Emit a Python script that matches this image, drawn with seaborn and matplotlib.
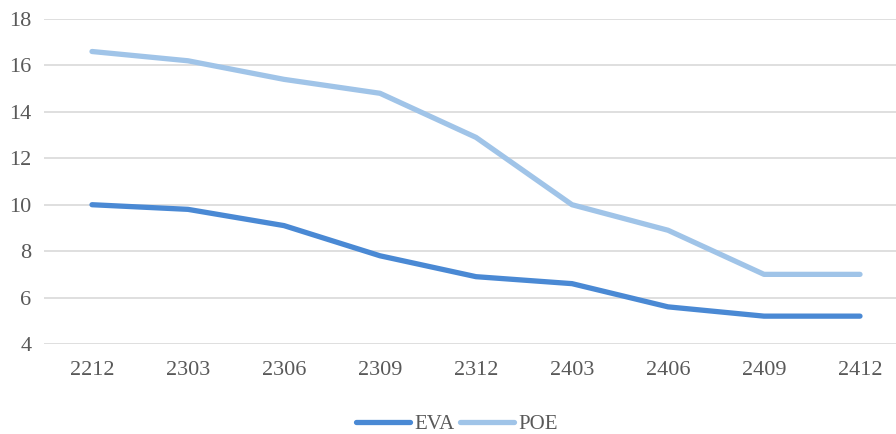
import matplotlib
matplotlib.use("Agg")
import matplotlib.pyplot as plt
import seaborn as sns
import pandas as pd
from matplotlib.lines import Line2D

periods = ["2212", "2303", "2306", "2309", "2312", "2403", "2406", "2409", "2412"]
eva = [10.0, 9.8, 9.1, 7.8, 6.9, 6.6, 5.6, 5.2, 5.2]
poe = [16.6, 16.2, 15.4, 14.8, 12.9, 10.0, 8.9, 7.0, 7.0]
yticks = [4, 6, 8, 10, 12, 14, 16, 18]

df = pd.DataFrame({"period": periods * 2,
                   "value": eva + poe,
                   "series": ["EVA"] * len(eva) + ["POE"] * len(poe)})

sns.set_theme(style="white")
plt.rcParams["font.family"] = ["Liberation Serif", "DejaVu Serif"]
text_color = "#595959"

fig = plt.figure(figsize=(8.96, 4.34), dpi=100)
ax = fig.add_axes([44 / 896, 90 / 434, 852 / 896, 325 / 434])

palette = {"EVA": "#4a89d4", "POE": "#a0c4e8"}
sns.lineplot(data=df, x="period", y="value", hue="series", palette=palette,
             linewidth=3.8, sort=False, ax=ax, legend=False)
for line in ax.lines:
    line.set_solid_capstyle("round")
    line.set_solid_joinstyle("round")

ax.set_ylim(4, 18)
ax.set_yticks(yticks)
ax.set_xlim(-0.5, 8.375)
ax.grid(axis="y", color="#dcdcdc", linewidth=1.3)
ax.set_axisbelow(True)
for s in ax.spines.values():
    s.set_visible(False)
ax.tick_params(axis="both", length=0, labelsize=16, colors=text_color)
ax.tick_params(axis="x", pad=12)
ax.tick_params(axis="y", pad=9)
ax.set_xlabel("")
ax.set_ylabel("")

handles = [Line2D([], [], color=palette[k], linewidth=3.8, solid_capstyle="round")
           for k in ["EVA", "POE"]]
fig.legend(handles, ["EVA", "POE"], loc="center", bbox_to_anchor=(0.51, 10 / 434),
           ncol=2, frameon=False, fontsize=15, handlelength=2.6, handletextpad=0.2,
           columnspacing=0.25, labelcolor=text_color)

fig.savefig("out.png", dpi=100)
